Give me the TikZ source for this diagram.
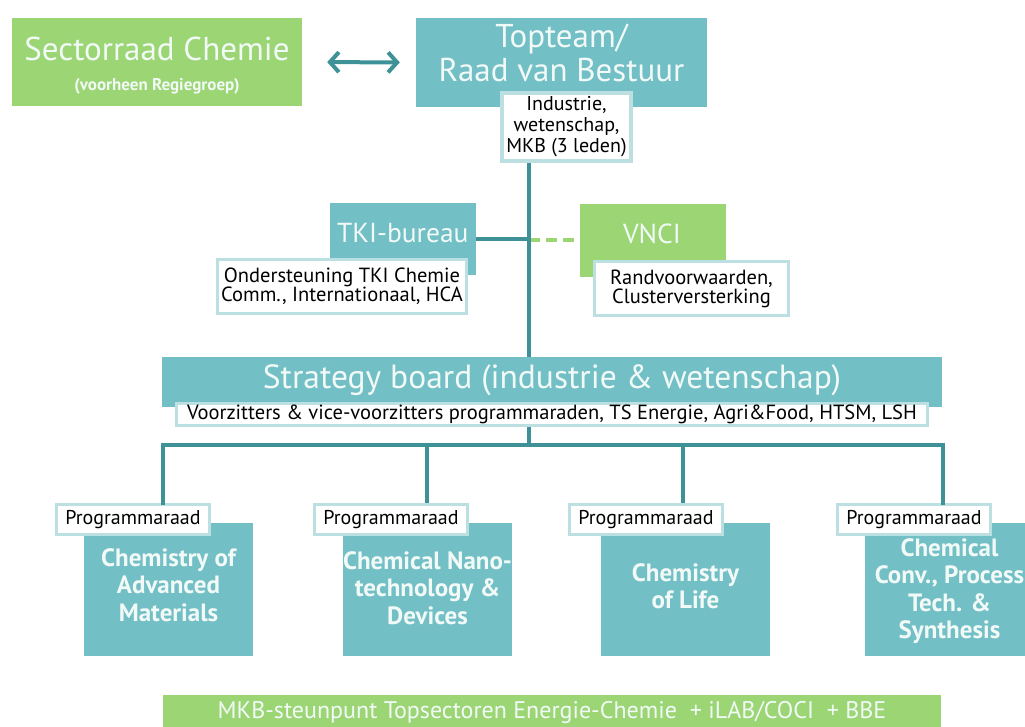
\documentclass[tikz,border=0pt]{standalone}
\usepackage{fontspec}
\setmainfont{PT Sans}
\usetikzlibrary{arrows.meta}

\definecolor{tealbox}{HTML}{72BFC5}
\definecolor{tealline}{HTML}{3E9196}
\definecolor{greenbox}{HTML}{9CD574}
\definecolor{paleedge}{HTML}{BCDFE2}
\definecolor{boxtext}{HTML}{F2FAF8}

\begin{document}
\begin{tikzpicture}[x=1pt, y=-1pt,
    tealnode/.style={fill=tealbox, inner sep=0pt, text=boxtext, align=center},
    greennode/.style={fill=greenbox, inner sep=0pt, text=boxtext, align=center},
    notebox/.style={fill=white, draw=paleedge, line width=3.5pt, inner sep=0pt,
      align=center, text=black, font=\fontsize{20.5}{19}\selectfont},
    link/.style={draw=tealline, line width=4pt}]
        \useasboundingbox (0,0) rectangle (1025,727);

        \node [greennode, minimum width=290, minimum height=88] (sector) at (157,62) {};
        \node [text=boxtext, align=center, font=\fontsize{33}{34}\selectfont] (sectortxt)
          at (157,66)
          {Sectorraad Chemie\\[-4pt]{\fontsize{17}{18}\selectfont\bfseries(voorheen Regiegroep)}};
        \node [tealnode, minimum width=291, minimum height=89] (topteam) at (561.5,62.5) {};
        \node [text=boxtext, align=center, font=\fontsize{33}{34}\selectfont] (toptxt)
          at (561.5,53) {Topteam/\\Raad van Bestuur};
        \node [notebox, minimum width=129, minimum height=68,
          font=\fontsize{20}{21}\selectfont] (ind) at (566.5,127)
          {Industrie,\\wetenschap,\\MKB (3 leden)};
        \draw [<->, >={Straight Barb[length=9pt, width=20pt]}, line width=4pt,
          tealline, shorten <=25pt, shorten >=16pt] (sector.east) -- (topteam.west);

        \coordinate (spine) at (529,0);

        \node [tealnode, minimum width=146, minimum height=72] (tki) at (403,239) {};
        \node [text=boxtext, font=\fontsize{27.5}{29}\selectfont, anchor=east] (tkitxt)
          at (472,233) {TKI-bureau};
        \node [notebox, minimum width=249, minimum height=54] (onder) at (342,286.5)
          {Ondersteuning TKI Chemie\\Comm., Internationaal, HCA};

        \node [greennode, minimum width=146, minimum height=73] (vnci) at (653,240.5) {};
        \node [text=boxtext, font=\fontsize{27.5}{29}\selectfont] (vncitxt)
          at (652,234) {VNCI};
        \node [notebox, minimum width=194, minimum height=54] (rand) at (691.5,288.5)
          {Randvoorwaarden,\\Clusterversterking};

        \draw [link] (tki.east) -- (tki.east -| spine);
        \draw [draw=greenbox, line width=4pt, dash pattern=on 11pt off 6pt]
          (vnci.west -| spine) -- (vnci.west);

        \node [tealnode, minimum width=780, minimum height=50] (strat) at (552,382) {};
        \node [text=boxtext, font=\fontsize{33.5}{35}\selectfont] (strattxt)
          at (552,380) {Strategy board (industrie \& wetenschap)};
        \node [notebox, minimum width=751, minimum height=22,
          font=\fontsize{20.5}{21}\selectfont] (voorz) at (552,414.5)
          {Voorzitters \& vice-voorzitters programmaraden, TS Energie, Agri\&Food, HTSM, LSH};

        \draw [link] (ind.south -| spine) -- (strat.north -| spine);
        \draw [link] (voorz.south -| spine) -- (spine |- 0,445);

        \foreach \i/\x/\lx/\ty/\title in {1/168.5/133/585/{Chemistry of\\Advanced\\Materials},
            2/427.5/391/588/{Chemical Nano-\\technology \&\\Devices},
            3/685.5/646/586/{Chemistry\\of Life},
            4/949.5/914/591/{Chemical\\Conv., Process\\Tech. \&\\Synthesis}} {
          \node [tealnode, minimum width=169, minimum height=133] (prog\i) at (\x,589.5) {};
          \node [text=boxtext, align=center,
            font=\fontsize{25}{27.5}\selectfont\bfseries] (progtxt\i) at (\x,\ty) {\title};
          \node [notebox, minimum width=153, minimum height=30,
            font=\fontsize{20}{21}\selectfont] (lab\i) at (\lx,519.5) {Programmaraad};
        }
        \draw [link, line cap=rect] (lab1.north -| 163,0) |- (943,445) -- (lab4.north -| 943,0);
        \draw [link] (lab2.north -| 427,0) -- (427,445);
        \draw [link] (lab3.north -| 683,0) -- (683,445);

        \node [greennode, minimum width=778, minimum height=34,
          font=\fontsize{24}{25}\selectfont] (mkb) at (552,712)
          {MKB-steunpunt Topsectoren Energie-Chemie \ + iLAB/COCI \ + BBE};
\end{tikzpicture}
\end{document}
